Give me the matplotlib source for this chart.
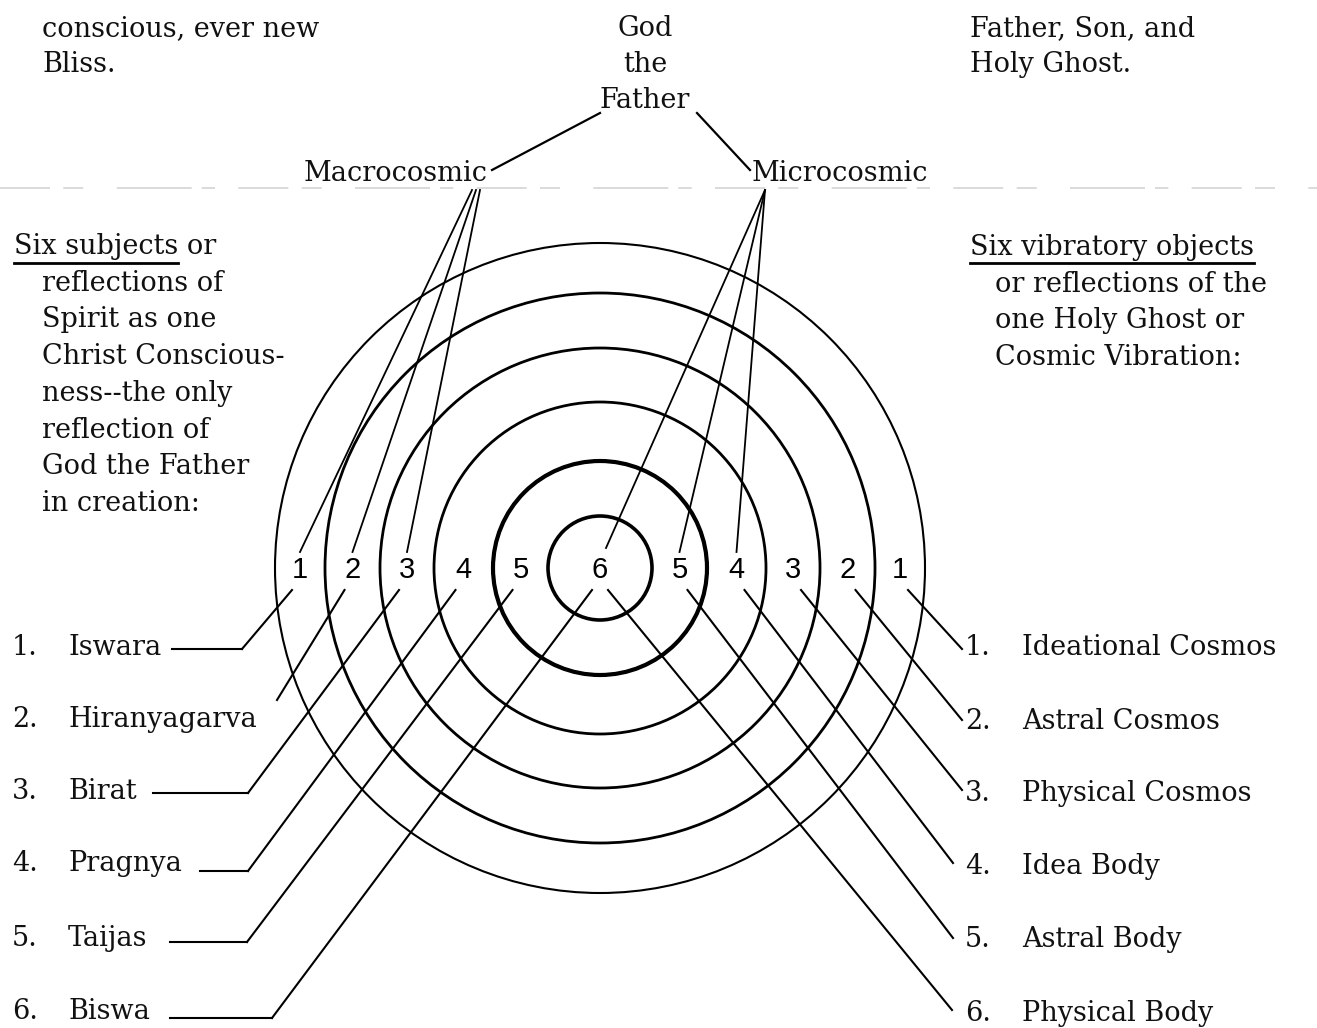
import numpy as np
import matplotlib.pyplot as plt
from matplotlib.patches import Circle
from matplotlib.font_manager import FontProperties

# rings, from the outer one (1) to the centre (6)
ring_numbers = [1, 2, 3, 4, 5, 6]
subjects = ["Iswara", "Hiranyagarva", "Birat", "Pragnya", "Taijas", "Biswa"]
objects = ["Ideational Cosmos", "Astral Cosmos", "Physical Cosmos",
           "Idea Body", "Astral Body", "Physical Body"]

top_left = ["conscious, ever new", "Bliss."]
top_mid = ["God", "the", "Father"]
top_right = ["Father, Son, and", "Holy Ghost."]
left_note = ["Six subjects or", "reflections of", "Spirit as one",
             "Christ Conscious-", "ness--the only", "reflection of",
             "God the Father", "in creation:"]
right_note = ["Six vibratory objects", "or reflections of the",
              "one Holy Ghost or", "Cosmic Vibration:"]

W, H = 1317, 1028
fig = plt.figure(figsize=(W / 100, H / 100), dpi=100)
ax = fig.add_axes([0, 0, 1, 1])
ax.set_xlim(0, W)
ax.set_ylim(H, 0)
ax.set_aspect('equal')
ax.axis('off')
renderer = fig.canvas.get_renderer()

FS = 19.5
fp = FontProperties(family='DejaVu Serif', size=FS)
txt = dict(fontproperties=fp, color='#111111', va='baseline')


def text_width(s):
    w, h, d = renderer.get_text_width_height_descent(s, fp, ismath=False)
    return w


# header text
for i, s in enumerate(top_left):
    ax.text(42, 36 + 36 * i, s, **txt)
for i, s in enumerate(top_mid):
    ax.text(645, 36 + 36 * i, s, ha='center', **txt)
for i, s in enumerate(top_right):
    ax.text(970, 36 + 36 * i, s, **txt)

# Macrocosmic is anchored at its right end, where the leaders meet
ax.text(488, 181, "Macrocosmic", ha='right', **txt)
ax.text(752, 181, "Microcosmic", **txt)
ax.plot([600, 492], [113, 170], color='black', lw=1.6)
ax.plot([697, 750], [113, 170], color='black', lw=1.6)

# faint scan streak under the header
ax.plot([0, W], [188, 188], color='#d4d4d4', lw=1.2,
        dashes=(30, 8, 12, 20, 45, 6, 8, 14))

# side notes
for i, s in enumerate(left_note):
    ax.text(14 if i == 0 else 42, 254 + 36.7 * i, s, **txt)
ax.plot([14, 14 + text_width("Six subjects")], [263, 263], color='black', lw=2)
for i, s in enumerate(right_note):
    ax.text(970 if i == 0 else 995, 255 + 36.7 * i, s, **txt)
ax.plot([970, 970 + text_width("Six vibratory objects")], [263, 263],
        color='black', lw=2)

# concentric rings
cx, cy = 600, 568
radii = [325, 275, 220, 166, 107, 52]
widths = [1.5, 2.0, 2.0, 2.0, 3.0, 2.6]
for r, w in zip(radii, widths):
    ax.add_patch(Circle((cx, cy), r, fill=False, ec='black', lw=w))

# ring numbers, placed in the middle of each band
mids = [(radii[k] + radii[k + 1]) / 2 if k < 5 else 0 for k in range(6)]
num = dict(family='Liberation Sans', fontsize=21, ha='center', va='center')
for n, m in zip(ring_numbers, mids):
    ax.text(cx - m, cy + 2, str(n), **num)
    if m > 0:
        ax.text(cx + m, cy + 2, str(n), **num)

# leaders from Macrocosmic to subjects 1-3 and Microcosmic to objects 4-6
for k in range(3):
    ax.plot([472 + 4 * k, cx - mids[k]], [190, cy - 16], color='black', lw=1.3)
for k in range(3, 6):
    ax.plot([765, cx + mids[k] + (6 if k == 5 else 0)],
            [190, cy - 20 if k == 5 else cy - 16], color='black', lw=1.3)

# lists below
left_y = [655, 727, 799, 871, 946, 1019]
right_y = [655, 729, 801, 874, 947, 1021]
left_end = [172, None, 153, 200, 170, 170]
left_knee = [(242, 649), (277, 700), (248, 793), (248, 871), (247, 942), (272, 1018)]
right_end = [(962, 649), (962, 720), (962, 790), (953, 863), (953, 938), (952, 1010)]

for k, (n, name) in enumerate(zip(ring_numbers, subjects)):
    ax.text(12, left_y[k], f"{n}.", **txt)
    ax.text(68, left_y[k], name, **txt)
    kx, ky = left_knee[k]
    sx = cx - mids[k] - 8
    ax.plot([sx, kx], [cy + 22, ky], color='black', lw=1.5)
    if left_end[k] is not None:
        x0 = max(left_end[k], 68 + text_width(name) + 4)
        ax.plot([kx, x0], [ky, ky], color='black', lw=1.5)

for k, (n, name) in enumerate(zip(ring_numbers, objects)):
    ax.text(965, right_y[k], f"{n}.", **txt)
    ax.text(1022, right_y[k], name, **txt)
    ex, ey = right_end[k]
    sx = cx + mids[k] + 8
    ax.plot([sx, ex], [cy + 22, ey], color='black', lw=1.5)

fig.savefig('out.png', dpi=100, facecolor='white')
